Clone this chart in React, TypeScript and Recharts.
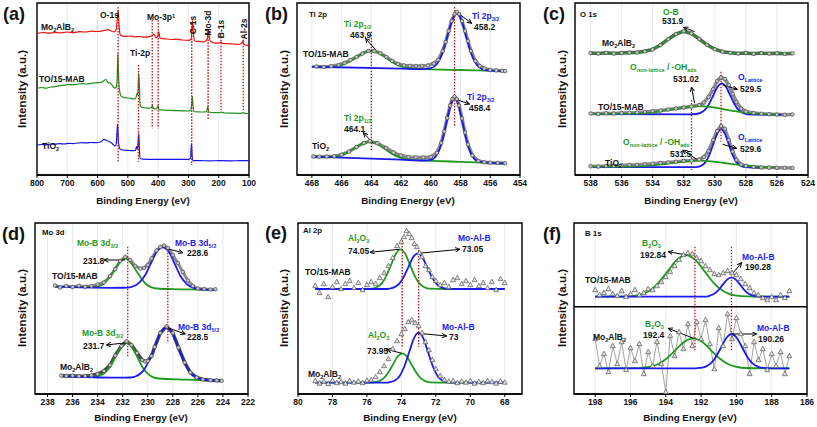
import React from 'react';
import {
  ComposedChart,
  Line,
  XAxis,
  YAxis,
  CartesianGrid,
  ReferenceLine,
  ReferenceArea,
} from 'recharts';

type Pt = [number, number];

// ---- (a) survey ----
const surveyMo: Pt[] = [
  [800, 141.7], [780, 142.5], [760, 141.8], [740, 142.6], [720, 142.2], [700, 143], [680, 142.4], [660, 143.4],
  [640, 143], [620, 143.8], [600, 143.5], [580, 144.4], [565, 145.3], [555, 144], [545, 143.2], [538, 146],
  [535, 156], [532, 165], [529, 150], [526, 141], [520, 139.2], [505, 138.6], [490, 138.9], [475, 138.2],
  [460, 138.5], [445, 137.8], [430, 138.3], [420, 139.5], [414, 141], [408, 137.5], [402, 138], [398, 143.5],
  [394, 137], [385, 136.3], [370, 136], [355, 135.5], [340, 135.8], [320, 135], [300, 134.7], [292, 135.5],
  [288, 146], [286, 154.5], [283, 140], [280, 134], [265, 133.6], [250, 133.2], [242, 134], [238, 136],
  [235, 143], [233.5, 145.5], [231, 138], [227, 133.5], [215, 132.2], [200, 131.8], [192, 133], [188, 131.5],
  [170, 131.4], [150, 131], [135, 130.7], [124, 132], [120, 134], [116, 130.5], [108, 129.8], [100, 129.2],
];
const surveyMab: Pt[] = [
  [800, 86.7], [785, 87.5], [770, 86.9], [755, 88], [740, 88.4], [725, 89.3], [710, 89.8], [695, 90.5],
  [680, 90.2], [665, 91], [650, 91.3], [635, 91], [620, 91.8], [605, 92.2], [590, 92.5], [578, 94.5],
  [572, 95.5], [566, 92.5], [558, 91.8], [550, 89], [544, 87], [538, 88], [535, 100], [533, 121.7],
  [531, 100], [528, 86], [524, 80], [520, 78.5], [510, 77.3], [500, 77], [490, 76.6], [480, 76],
  [474, 76.5], [470, 81.5], [468, 80], [466, 86], [464, 101.7], [462, 90], [460, 72], [458, 68.5],
  [450, 67.5], [440, 67], [430, 66.8], [422, 67.5], [419, 69.5], [415, 66.5], [405, 66], [401, 69.2],
  [397, 65.4], [380, 65], [360, 64.6], [340, 64.4], [320, 64.2], [300, 64], [292, 64.5], [289, 72],
  [287, 78.3], [285, 70], [282, 63.4], [270, 63.2], [250, 63], [240, 63.4], [236, 69], [233, 63],
  [225, 62.5], [200, 62.3], [192, 62.8], [180, 62], [150, 61.8], [130, 61.6], [120, 62.2], [110, 61.5], [100, 61.3],
];
const surveyTi: Pt[] = [
  [800, 30], [785, 30.5], [770, 30.2], [755, 31], [740, 30.8], [725, 31.3], [710, 31], [695, 31.6],
  [680, 31.4], [665, 32], [650, 32.3], [635, 32.1], [620, 32.5], [605, 32.4], [590, 33], [578, 35.7],
  [570, 34.5], [560, 33.3], [550, 31], [543, 29], [539, 30], [536, 42], [534, 51], [532, 38],
  [529, 28.3], [524, 25.5], [515, 25], [500, 24.6], [485, 24.3], [475, 24.5], [471, 28.3], [468, 26],
  [466, 33], [464, 41.7], [462, 26], [459, 16.5], [450, 15.8], [420, 15.7], [380, 15.6], [340, 15.7],
  [300, 15.6], [293, 17], [290, 31.7], [288, 20], [285, 14.3], [260, 14.3], [230, 14.2], [200, 14.3],
  [160, 14.2], [130, 14.3], [100, 14.3],
];
const surveyTicks = [800, 700, 600, 500, 400, 300, 200, 100];

// ---- (b) Ti 2p ----
const tiMabRaw: Pt[] = [
  [467.7, 108.5], [467.2, 108.1], [466.7, 108.8], [466.2, 110], [465.8, 112], [465.4, 115], [465, 118],
  [464.6, 121.5], [464.2, 124], [463.8, 124], [463.4, 121.8], [463, 118], [462.6, 114], [462.2, 111],
  [461.8, 109.6], [461.4, 109.2], [461, 109], [460.6, 109.1], [460.2, 109.5], [459.8, 111.5], [459.5, 115],
  [459.2, 124], [459, 133], [458.8, 144], [458.6, 154], [458.4, 161], [458.25, 163], [458.1, 161],
  [457.9, 154], [457.7, 144], [457.5, 134], [457.3, 124], [457, 114], [456.7, 109], [456.4, 106.5],
  [456, 105], [455.6, 104.6], [455.2, 104.2], [455, 104],
];
const tiMabP12: Pt[] = [
  [468, 108.3], [467, 108.1], [466.5, 108.6], [466, 109.9], [465.5, 113], [465, 117.8], [464.5, 122.4],
  [464, 124.3], [463.5, 122.1], [463, 117.1], [462.5, 112.1], [462, 108.6], [461.5, 106.9], [461, 106.2],
  [460, 105.7], [458, 105], [456, 104.3], [455, 104],
];
const tiMabP32: Pt[] = [
  [468, 108.3], [462, 106.3], [460.5, 105.8], [460, 106.8], [459.5, 112.9], [459.2, 122.9], [459, 132.5],
  [458.8, 143.2], [458.6, 153.3], [458.4, 160], [458.25, 161.7], [458.1, 159.9], [457.9, 153.1],
  [457.7, 142.8], [457.5, 132], [457.3, 122.3], [457, 112.1], [456.5, 105.6], [456, 104.3], [455, 104],
];
const tiTioRaw: Pt[] = [
  [467.9, 18.5], [467.5, 18.3], [467, 18.5], [466.5, 18.8], [466, 20.3], [465.5, 23.5], [465, 28],
  [464.5, 32], [464.1, 33.8], [463.6, 31.8], [463, 27], [462.5, 22.5], [462, 19.5], [461.5, 18],
  [461, 17.6], [460.5, 17.5], [460, 18], [459.6, 22], [459.3, 32], [459.1, 43.5], [458.9, 57],
  [458.7, 69.5], [458.55, 76], [458.4, 78.3], [458.25, 76], [458.1, 69.5], [457.9, 56.5], [457.7, 42.5],
  [457.5, 30.5], [457.2, 19.5], [456.8, 14], [456.4, 12.8], [456, 12.3], [455.5, 12], [455, 11.7],
];
const tiTioP12: Pt[] = [
  [468, 18.3], [467, 18], [466.6, 18.3], [466.1, 19.7], [465.6, 22.6], [465.1, 27.2], [464.6, 31.6],
  [464.1, 33.4], [463.6, 31.1], [463.1, 26.2], [462.6, 21.1], [462.1, 17.7], [461.6, 15.8], [461, 14.8],
  [460, 14.2], [458, 13.2], [456, 12.2], [455, 11.7],
];
const tiTioP32: Pt[] = [
  [468, 18.3], [462, 15.3], [460.5, 14.5], [460, 15.1], [459.6, 19.9], [459.3, 30.4], [459.1, 42],
  [458.9, 55.5], [458.7, 68.2], [458.55, 74.5], [458.4, 76.7], [458.25, 74.4], [458.1, 67.9], [457.9, 55],
  [457.7, 41.3], [457.5, 29.5], [457.2, 18.8], [456.8, 13.6], [456, 12.2], [455, 11.7],
];
const tiTicks = [468, 466, 464, 462, 460, 458, 456, 454];

// ---- (c) O 1s ----
const oMoRaw: Pt[] = [
  [538, 122], [537.5, 121.5], [537, 122.3], [536.5, 121.4], [536, 122], [535.5, 122.4], [535, 122.5],
  [534.5, 123.7], [534, 125.6], [533.5, 130], [533, 135.8], [532.5, 141], [532, 143.8], [531.5, 141.5],
  [531, 136], [530.5, 130.2], [530, 125.8], [529.5, 123.3], [529, 122.2], [528.5, 121.5], [528, 122],
  [527.5, 121.3], [527, 121.9], [526.5, 121.4], [526, 121.8], [525.5, 121.2], [525, 121.6],
];
const oMoOB: Pt[] = [
  [538, 121.7], [536, 121.7], [535.3, 121.9], [534.75, 122.6], [534.2, 124.6], [533.65, 128.7], [533.1, 134.8],
  [532.55, 140.8], [532, 143.3], [531.45, 140.8], [530.9, 134.8], [530.35, 128.7], [529.8, 124.6],
  [529.25, 122.6], [528.7, 121.9], [527, 121.7], [525, 121.6],
];
const oMabRaw: Pt[] = [
  [538, 61.5], [537.5, 61.2], [537, 61.8], [536.5, 61.5], [536, 62], [535.5, 62.3], [535, 62.5], [534.5, 63],
  [534, 63.8], [533.5, 64.5], [533, 65.5], [532.5, 66.5], [532, 67.5], [531.5, 68.5], [531, 70], [530.7, 72.5],
  [530.4, 78], [530.1, 86], [529.85, 94], [529.6, 97.5], [529.35, 96], [529.1, 90], [528.85, 81], [528.6, 73],
  [528.3, 66.5], [528, 63.5], [527.5, 62], [527, 61.2], [526.5, 60.8], [526, 60.5], [525.5, 60.3], [525, 60.5],
];
const oMabOH: Pt[] = [
  [537.8, 61.1], [536, 61.4], [535, 61.6], [534.2, 62.2], [533.4, 63.9], [532.6, 65.9], [531.8, 68], [531, 68.9],
  [530.2, 67.9], [529.4, 65.7], [528.6, 63.6], [527.8, 61.9], [527, 61.2], [526, 60.6],
];
const oMabLat: Pt[] = [
  [537.7, 61], [531.5, 60.7], [531.2, 61], [530.93, 62.1], [530.65, 64.9], [530.38, 70.7], [530.1, 79.5],
  [529.83, 88.1], [529.55, 91.7], [529.27, 88], [529, 79.4], [528.72, 70.5], [528.45, 64.6], [528.17, 61.8],
  [527.9, 60.7], [525.7, 60.3],
];
const oTioRaw: Pt[] = [
  [538, 8.8], [537.5, 8.5], [537, 9], [536.5, 9.2], [536, 9.6], [535.5, 10], [535, 10.3], [534.5, 10.8],
  [534, 11.3], [533.5, 12], [533, 12.6], [532.5, 13.3], [532, 14], [531.5, 14.5], [531, 15.5], [530.7, 18],
  [530.4, 24], [530.1, 35], [529.85, 44], [529.6, 49], [529.35, 46], [529.1, 35], [528.85, 23.5], [528.6, 15],
  [528.3, 10.5], [528, 9], [527.5, 8], [527, 7.6], [526.5, 7.4], [526, 7.2], [525.5, 7.2], [525, 7],
];
const oTioOH: Pt[] = [
  [538, 8.4], [536, 8.4], [535, 8.6], [534.2, 9.3], [533.4, 10.7], [532.6, 12.4], [531.8, 13.7], [531, 14.3],
  [530.2, 13.6], [529.4, 12], [528.6, 10.4], [527.8, 9], [527, 8.2], [526, 7.6],
];
const oTioLat: Pt[] = [
  [537.8, 8], [531.3, 7.8], [531.1, 8.1], [530.85, 9.5], [530.6, 12.9], [530.35, 20.1], [530.1, 30.8],
  [529.85, 41.2], [529.6, 45.7], [529.35, 41.1], [529.1, 30.7], [528.85, 19.9], [528.6, 12.6], [528.35, 9.2],
  [528.1, 7.8], [527, 7.4],
];
const oTicks = [538, 536, 534, 532, 530, 528, 526, 524];

// ---- (d) Mo 3d ----
const moMabRaw: Pt[] = [
  [237.4, 108.5], [237, 106.5], [236.5, 108], [236, 107], [235.5, 108.3], [235, 107.2], [234.5, 108],
  [234, 109.5], [233.5, 111.5], [233, 118], [232.6, 125], [232.2, 133], [231.8, 137], [231.4, 134],
  [231, 128], [230.6, 125.5], [230.3, 126], [230, 129], [229.7, 135.5], [229.3, 143.5], [229, 147],
  [228.7, 148.5], [228.4, 146], [228, 139], [227.6, 131], [227.2, 122], [226.8, 113.5], [226.4, 108],
  [226, 105.5], [225.5, 105], [225, 104.5], [224.6, 104.8],
];
const moMab32: Pt[] = [
  [237.4, 107.3], [234.8, 106.8], [234.35, 106.9], [233.9, 107.8], [233.5, 110.4], [233.1, 116], [232.65, 124.2],
  [232.2, 132.3], [231.8, 135.7], [231.4, 132.1], [230.95, 123.8], [230.5, 115.3], [230.1, 109.5],
  [229.7, 106.7], [229.25, 105.5], [228, 104.9], [226, 104.4], [224.6, 104],
];
const moMab52: Pt[] = [
  [237.4, 107.3], [233, 106.2], [231.65, 106.3], [231.2, 107.5], [230.7, 111.2], [230.2, 119], [229.75, 130.6],
  [229.3, 141.9], [228.8, 146.7], [228.3, 141.7], [227.85, 130.2], [227.4, 118.3], [226.9, 110.2],
  [226.4, 106.3], [225.95, 104.9], [224.6, 104],
];
const moMoRaw: Pt[] = [
  [236.9, 18.5], [236.5, 18], [236, 18.3], [235.5, 17.8], [235, 18], [234.5, 18.5], [234, 20], [233.5, 23],
  [233, 29], [232.6, 38.5], [232.1, 48], [231.7, 52.5], [231.3, 49], [230.85, 41], [230.45, 34], [230.2, 32.5],
  [230, 33], [229.7, 38], [229.45, 47], [229, 61], [228.5, 67.5], [228, 61], [227.55, 46.5], [227.05, 31.5],
  [226.6, 21.5], [226.1, 16.5], [225.6, 14.5], [225, 13.8], [224.5, 13.5], [224.1, 13.3],
];
const moMo32: Pt[] = [
  [236.9, 18], [234.7, 17.3], [234.25, 17.4], [233.8, 18.5], [233.4, 21.5], [232.95, 28.2], [232.55, 38],
  [232.1, 47.6], [231.7, 51.7], [231.3, 47.4], [230.85, 37.4], [230.45, 27.2], [230, 20.3], [229.6, 16.9],
  [229.15, 15.5], [227, 14.4], [224.1, 13.3],
];
const moMo52: Pt[] = [
  [236.9, 18], [232.5, 16.3], [231.35, 16.5], [230.9, 18], [230.4, 22.6], [229.95, 32.2], [229.45, 46.6],
  [229, 60.8], [228.5, 66.7], [228, 60.4], [227.55, 45.9], [227.05, 31.2], [226.6, 21.2], [226.1, 16.3],
  [225.65, 14.5], [224.1, 13.3],
];
const moTicks = [238, 236, 234, 232, 230, 228, 226, 224, 222];

// ---- (e) Al 2p ----
const alMabRaw: Pt[] = [
  [79, 108], [78.75, 101], [78.5, 110], [78.25, 97], [78, 107], [77.75, 112], [77.5, 105], [77.25, 110],
  [77, 113], [76.75, 106], [76.5, 111], [76.25, 104], [76, 109], [75.75, 112], [75.5, 110], [75.25, 116],
  [75, 121], [74.75, 128], [74.5, 136], [74.25, 148], [74, 152], [73.85, 157], [73.7, 163], [73.55, 160],
  [73.4, 156], [73.25, 150], [73.1, 147], [72.95, 141], [72.8, 137], [72.6, 128], [72.4, 124], [72.2, 117],
  [72, 113], [71.75, 109], [71.5, 111], [71.25, 107], [71, 114], [70.75, 116], [70.5, 110], [70.25, 113],
  [70, 109], [69.75, 114], [69.5, 108], [69.25, 111], [69, 106], [68.75, 112], [68.5, 104], [68.25, 115], [68, 111],
];
const alMabOx: Pt[] = [
  [79, 105], [76, 105], [75.7, 105.4], [75.43, 106.7], [75.15, 110.4], [74.88, 117.9], [74.6, 129.1],
  [74.33, 140], [74.05, 144.7], [73.77, 140], [73.5, 129.1], [73.22, 117.9], [72.95, 110.4], [72.67, 106.7],
  [72.4, 105.4], [71.5, 105], [68, 105],
];
const alMabMab: Pt[] = [
  [79, 105], [74.8, 105], [74.7, 105.4], [74.43, 106.6], [74.15, 109.8], [73.88, 116.6], [73.6, 126.7],
  [73.33, 136.5], [73.05, 140.7], [72.77, 136.5], [72.5, 126.7], [72.22, 116.6], [71.95, 109.8], [71.67, 106.6],
  [71.4, 105.4], [71, 105], [68, 105],
];
const alMoRaw: Pt[] = [
  [79, 13], [78.75, 10.5], [78.5, 12.5], [78.25, 10], [78, 13.5], [77.75, 11], [77.5, 12], [77.25, 10.5],
  [77, 13], [76.75, 11.5], [76.5, 12.5], [76.25, 11], [76, 13.5], [75.75, 14], [75.5, 17], [75.25, 22],
  [75, 28], [74.75, 35], [74.5, 45], [74.25, 53], [74, 60], [73.8, 65], [73.6, 72], [73.4, 74], [73.2, 71],
  [73, 68], [72.8, 61], [72.6, 52], [72.4, 44], [72.2, 34], [72, 25], [71.75, 18], [71.5, 14], [71.25, 12.5],
  [71, 13], [70.75, 11], [70.5, 12.5], [70.25, 11.5], [70, 13], [69.75, 10.5], [69.5, 12], [69.25, 11],
  [69, 13], [68.75, 12], [68.5, 10.5], [68.25, 12.5], [68, 11.5],
];
const alMoOx: Pt[] = [
  [79, 11.3], [75.9, 11.3], [75.6, 11.6], [75.33, 12.6], [75.05, 15.3], [74.78, 20.9], [74.5, 29.1],
  [74.23, 37.2], [73.95, 40.7], [73.67, 37.2], [73.4, 29.1], [73.12, 20.9], [72.85, 15.3], [72.57, 12.6],
  [72.3, 11.6], [71.5, 11.3], [68, 11.3],
];
const alMoMab: Pt[] = [
  [79, 11.3], [74.9, 11.3], [74.65, 11.9], [74.38, 13.5], [74.1, 18.1], [73.83, 27.5], [73.55, 41.7],
  [73.28, 55.4], [73, 61.3], [72.72, 55.4], [72.45, 41.7], [72.17, 27.5], [71.9, 18.1], [71.62, 13.5],
  [71.35, 11.9], [71, 11.3], [68, 11.3],
];
const alTicks = [80, 78, 76, 74, 72, 70, 68];

// ---- (f) B 1s ----
const bMabRaw: Pt[] = [
  [198, 104], [197.75, 99], [197.5, 101], [197.25, 105], [197, 100], [196.75, 98], [196.5, 103], [196.25, 97],
  [196, 100], [195.75, 104], [195.5, 99], [195.25, 101], [195, 105], [194.75, 104], [194.5, 108], [194.25, 112],
  [194, 117], [193.75, 122], [193.5, 128], [193.25, 134], [193, 139], [192.75, 141], [192.5, 140], [192.25, 136],
  [192, 133], [191.75, 128], [191.5, 124], [191.25, 120], [191, 119], [190.75, 121], [190.5, 123], [190.25, 121],
  [190, 119], [189.75, 115], [189.5, 110], [189.25, 106], [189, 101], [188.75, 99], [188.5, 96], [188.25, 94],
  [188, 97], [187.75, 94], [187.5, 99], [187.25, 96], [187, 103],
];
const bMabOx: Pt[] = [
  [198, 97.3], [196.5, 97.4], [196, 97.8], [195.5, 99.1], [194.95, 102.9], [194.43, 110.9], [193.9, 122.6],
  [193.38, 134.1], [192.85, 139], [192.33, 134.1], [191.8, 122.6], [191.28, 110.9], [190.75, 102.9],
  [190.23, 99.1], [189.7, 97.8], [189, 97.4], [187, 97.3],
];
const bMabMab: Pt[] = [
  [198, 97.3], [191.8, 97.3], [191.53, 98.2], [191.28, 99.9], [191.03, 103.6], [190.78, 109.1], [190.53, 114.4],
  [190.28, 116.7], [190.03, 114.4], [189.78, 109.1], [189.53, 103.6], [189.28, 99.9], [189.03, 98.2],
  [188.7, 97.4], [187, 97.3],
];
const bMoRaw: Pt[] = [
  [198, 55], [197.75, 28], [197.5, 40], [197.25, 22], [197, 48], [196.75, 30], [196.5, 52], [196.25, 24],
  [196, 46], [195.75, 33], [195.5, 50], [195.25, 20], [195, 42], [194.75, 28], [194.5, 52], [194.25, 30],
  [194, 2], [193.75, 58], [193.5, 38], [193.25, 62], [193, 45], [192.75, 70], [192.5, 48], [192.25, 72],
  [192, 55], [191.75, 74], [191.5, 50], [191.25, 25], [191, 66], [190.75, 48], [190.5, 80], [190.25, 55],
  [190, 76], [189.75, 60], [189.5, 48], [189.25, 20], [189, 52], [188.75, 34], [188.5, 45], [188.25, 24],
  [188, 40], [187.75, 28], [187.5, 42], [187.25, 20], [187, 38],
];
const bMoOx: Pt[] = [
  [198, 25.7], [195.5, 25.8], [195.45, 26], [194.95, 27], [194.45, 29.8], [193.95, 35.5], [193.45, 43.9],
  [192.95, 52.2], [192.45, 55.7], [191.95, 52.2], [191.45, 43.9], [190.95, 35.5], [190.45, 29.8],
  [189.95, 27], [189.45, 26], [188.5, 25.7], [187, 25.7],
];
const bMoMab: Pt[] = [
  [198, 25.7], [192.3, 25.7], [192.07, 26.1], [191.77, 27.2], [191.47, 30.3], [191.17, 36.8], [190.87, 46.5],
  [190.57, 56], [190.27, 60], [189.97, 56], [189.67, 46.5], [189.37, 36.8], [189.07, 30.3], [188.77, 27.2],
  [188.47, 26.1], [188, 25.7], [187, 25.7],
];
const bTicks = [198, 196, 194, 192, 190, 188, 186];

const FONT = '"Liberation Sans", Arial, Helvetica, sans-serif';
const GREEN = '#1f9a1f';
const BLUE = '#1a1aee';
const RED = '#c01818';

const toRows = (pts: Pt[]) => pts.map(([x, y]) => ({ x, y }));

const circleDot = (p: any) => (
  <circle key={`c${p.index}`} cx={p.cx} cy={p.cy} r={1.8} fill="#c4c4c4" stroke="#4a4a4a" strokeWidth={0.7} />
);
const triDot = (p: any) => (
  <path
    key={`t${p.index}`}
    d={`M${p.cx},${p.cy - 2.8}L${p.cx + 2.5},${p.cy + 1.7}L${p.cx - 2.5},${p.cy + 1.7}Z`}
    fill="#e2e2e2"
    stroke="#555"
    strokeWidth={0.7}
  />
);

interface Series {
  pts: Pt[];
  color: string;
  width?: number;
  raw?: 'circle' | 'tri' | 'plain';
}
interface RefSeg {
  x: number;
  y1: number;
  y2: number;
}
interface PanelProps {
  left: number;
  top: number;
  width: number;
  height: number;
  domain: [number, number];
  ticks: number[];
  series: Series[];
  refs?: RefSeg[];
  arrows?: [Pt, Pt][];
  divider?: number;
}

const AXIS_H = 24;
const SIDE = 14;

const Panel: React.FC<PanelProps> = ({ left, top, width, height, domain, ticks, series, refs = [], arrows = [], divider }) => (
  <div style={{ position: 'absolute', left: left - SIDE, top: top - 2 }}>
    <ComposedChart
      width={width + SIDE * 2}
      height={height + 2 + AXIS_H}
      margin={{ top: 2, right: SIDE, left: SIDE, bottom: 0 }}
    >
      <CartesianGrid horizontal={false} stroke="#dfe4ec" strokeWidth={0.8} />
      <XAxis
        type="number"
        dataKey="x"
        domain={domain}
        reversed
        allowDataOverflow
        ticks={ticks}
        interval={0}
        height={AXIS_H}
        tickSize={3}
        tickMargin={2}
        axisLine={{ stroke: '#000', strokeWidth: 1.4 }}
        tickLine={{ stroke: '#000' }}
        tick={{ fontSize: 8.5, fontWeight: 700, fill: '#111' }}
      />
      <YAxis type="number" dataKey="y" hide domain={[0, height]} allowDataOverflow />
      <ReferenceArea
        x1={domain[0]}
        x2={domain[1]}
        y1={0}
        y2={height}
        fill="none"
        fillOpacity={0}
        stroke="#000"
        strokeWidth={1.4}
        ifOverflow="visible"
      />
      {divider !== undefined && <ReferenceLine y={divider} stroke="#000" strokeWidth={1.4} />}
      {series.map((s, i) => (
        <Line
          key={i}
          data={toRows(s.pts)}
          dataKey="y"
          type={s.raw ? 'linear' : 'monotone'}
          stroke={s.width === 0 ? 'none' : s.color}
          strokeWidth={s.width ?? 1.8}
          dot={s.raw === 'circle' ? circleDot : s.raw === 'tri' ? triDot : false}
          activeDot={false}
          isAnimationActive={false}
        />
      ))}
      {refs.map((r, i) => (
        <ReferenceLine
          key={`r${i}`}
          segment={[{ x: r.x, y: r.y1 }, { x: r.x, y: r.y2 }]}
          stroke={RED}
          strokeWidth={1.3}
          strokeDasharray="1.6 1.4"
          ifOverflow="visible"
        />
      ))}
      {arrows.map((a, i) => (
        <ReferenceLine
          key={`a${i}`}
          segment={[{ x: a[0][0], y: a[0][1] }, { x: a[1][0], y: a[1][1] }]}
          ifOverflow="visible"
          shape={(p: any) => (
            <line x1={p.x1} y1={p.y1} x2={p.x2} y2={p.y2} stroke="#000" strokeWidth={1} markerEnd="url(#arrowHead)" />
          )}
        />
      ))}
    </ComposedChart>
  </div>
);

const Sub: React.FC<{ children: React.ReactNode }> = ({ children }) => (
  <span style={{ fontSize: '0.65em', position: 'relative', top: '0.35em' }}>{children}</span>
);
const Sup: React.FC<{ children: React.ReactNode }> = ({ children }) => (
  <span style={{ fontSize: '0.65em', position: 'relative', top: '-0.45em' }}>{children}</span>
);

const T: React.FC<{ x: number; y: number; c?: string; s?: number; children: React.ReactNode }> = ({
  x,
  y,
  c = '#111',
  s = 8.5,
  children,
}) => (
  <div
    style={{
      position: 'absolute',
      left: x,
      top: y,
      transform: 'translateY(-50%)',
      color: c,
      fontSize: s,
      fontWeight: 700,
      lineHeight: 1,
      whiteSpace: 'nowrap',
    }}
  >
    {children}
  </div>
);

const R: React.FC<{ x: number; y: number; s?: number; children: React.ReactNode }> = ({ x, y, s = 8.5, children }) => (
  <div
    style={{
      position: 'absolute',
      left: x,
      top: y,
      transform: 'translate(-50%,-50%) rotate(-90deg)',
      fontSize: s,
      fontWeight: 700,
      lineHeight: 1,
      whiteSpace: 'nowrap',
      color: '#111',
    }}
  >
    {children}
  </div>
);

const XTitle: React.FC<{ cx: number; y: number }> = ({ cx, y }) => (
  <div
    style={{
      position: 'absolute',
      left: cx,
      top: y,
      transform: 'translate(-50%,-50%)',
      fontSize: 9.8,
      fontWeight: 700,
      whiteSpace: 'nowrap',
      lineHeight: 1,
    }}
  >
    Binding Energy (eV)
  </div>
);
const YTitle: React.FC<{ x: number; cy: number }> = ({ x, cy }) => <R x={x} y={cy} s={11.5}>Intensity (a.u.)</R>;
const Letter: React.FC<{ x: number; y: number; t: string }> = ({ x, y, t }) => (
  <T x={x} y={y} s={18}>
    {t}
  </T>
);

export default function App() {
  return (
    <div
      style={{
        position: 'absolute',
        left: 0,
        top: 0,
        width: 817,
        height: 427,
        background: '#fff',
        overflow: 'hidden',
        fontFamily: FONT,
        color: '#111',
      }}
    >
      <svg width={0} height={0} style={{ position: 'absolute' }}>
        <defs>
          <marker id="arrowHead" viewBox="0 0 8 8" refX={7.5} refY={4} markerWidth={5} markerHeight={5} orient="auto" markerUnits="userSpaceOnUse">
            <path d="M0,0.5 L7.5,4 L0,7.5" fill="none" stroke="#000" strokeWidth={1.5} />
          </marker>
        </defs>
      </svg>

      {/* (a) survey */}
      <Panel
        left={37}
        top={3}
        width={212}
        height={172}
        domain={[100, 800]}
        ticks={surveyTicks}
        series={[
          { pts: surveyMo, color: '#f01414', width: 1.2 },
          { pts: surveyMab, color: '#1f8f1f', width: 1.2 },
          { pts: surveyTi, color: '#1414e6', width: 1.2 },
        ]}
        refs={[
          { x: 532, y1: 168, y2: 13 },
          { x: 465, y1: 110, y2: 13 },
          { x: 419.6, y1: 155, y2: 46.7 },
          { x: 399.8, y1: 155, y2: 46.7 },
          { x: 289, y1: 151.7, y2: 10 },
          { x: 235, y1: 141.7, y2: 55 },
          { x: 192.5, y1: 138.3, y2: 65 },
          { x: 119, y1: 138.3, y2: 65 },
        ]}
      />
      <Letter x={3} y={14} t="(a)" />
      <T x={100} y={15}>O-1s</T>
      <T x={147} y={17}>
        Mo-3p<Sup>1</Sup>
      </T>
      <T x={130} y={53}>Ti-2p</T>
      <R x={193} y={25}>C-1s</R>
      <R x={208} y={23}>Mo-3d</R>
      <R x={221} y={29}>B-1s</R>
      <R x={244} y={29}>Al-2s</R>
      <T x={41} y={27}>
        Mo<Sub>2</Sub>AlB<Sub>2</Sub>
      </T>
      <T x={39} y={79}>TO/15-MAB</T>
      <T x={42} y={146}>
        TiO<Sub>2</Sub>
      </T>
      <YTitle x={23} cy={89} />
      <XTitle cx={143} y={201} />

      {/* (b) Ti 2p */}
      <Panel
        left={297}
        top={3}
        width={223}
        height={172}
        domain={[454, 469]}
        ticks={tiTicks}
        series={[
          { pts: tiMabRaw, color: '#8c8c8c', width: 3.5, raw: 'circle' },
          { pts: tiTioRaw, color: '#8c8c8c', width: 3.5, raw: 'circle' },
          { pts: tiMabP12, color: GREEN },
          { pts: tiTioP12, color: GREEN },
          { pts: tiMabP32, color: BLUE },
          { pts: tiTioP32, color: BLUE },
        ]}
        refs={[
          { x: 464, y1: 143.3, y2: 23.3 },
          { x: 458.4, y1: 168, y2: 48 },
        ]}
        arrows={[
          [[463.7, 125], [464.4, 136.7]],
          [[458.0, 160], [457.25, 151.7]],
          [[463.87, 31.7], [464.54, 42.3]],
          [[458.3, 75.7], [457.4, 71]],
        ]}
      />
      <Letter x={265} y={14} t="(b)" />
      <T x={309} y={15} s={7.8}>Ti 2p</T>
      <T x={344} y={24} c={GREEN}>
        Ti 2p<Sub>1/2</Sub>
      </T>
      <T x={350} y={35}>463.9</T>
      <T x={303} y={54}>TO/15-MAB</T>
      <T x={472} y={16} c={BLUE}>
        Ti 2p<Sub>3/2</Sub>
      </T>
      <T x={474} y={27}>458.2</T>
      <T x={344} y={118} c={GREEN}>
        Ti 2p<Sub>1/2</Sub>
      </T>
      <T x={344} y={129}>464.1</T>
      <T x={312} y={146}>
        TiO<Sub>2</Sub>
      </T>
      <T x={467} y={97} c={BLUE}>
        Ti 2p<Sub>3/2</Sub>
      </T>
      <T x={469} y={108}>458.4</T>
      <YTitle x={285} cy={89} />
      <XTitle cx={408} y={201} />

      {/* (c) O 1s */}
      <Panel
        left={575}
        top={3}
        width={233}
        height={172}
        domain={[524, 539]}
        ticks={oTicks}
        series={[
          { pts: oMoRaw, color: '#5a5a5a', width: 3.5, raw: 'circle' },
          { pts: oMabRaw, color: '#8c8c8c', width: 3.5, raw: 'circle' },
          { pts: oTioRaw, color: '#8c8c8c', width: 3.5, raw: 'circle' },
          { pts: oMoOB, color: GREEN },
          { pts: oMabLat, color: BLUE },
          { pts: oTioLat, color: BLUE },
          { pts: oMabOH, color: GREEN },
          { pts: oTioOH, color: GREEN },
        ]}
        refs={[
          { x: 531.5, y1: 75, y2: 5 },
          { x: 529.6, y1: 103.3, y2: 33.3 },
        ]}
        arrows={[
          [[531.3, 143.3], [532.0, 147.7]],
          [[531.3, 71.7], [531.5, 88]],
          [[529.5, 90], [528.55, 85.7]],
          [[531.16, 15.7], [532.07, 25]],
          [[529.5, 30.7], [528.6, 26.7]],
        ]}
      />
      <Letter x={543} y={14} t="(c)" />
      <T x={580} y={15} s={7.8}>O 1s</T>
      <T x={663} y={12} c={GREEN}>O-B</T>
      <T x={662} y={21}>531.9</T>
      <T x={602} y={43}>
        Mo<Sub>2</Sub>AlB<Sub>2</Sub>
      </T>
      <T x={630} y={67} c={GREEN}>
        O<Sub>non-lattice</Sub> / -OH<Sub>ads</Sub>
      </T>
      <T x={673} y={79}>531.02</T>
      <T x={738} y={77} c={BLUE}>
        O<Sub>Lattice</Sub>
      </T>
      <T x={740} y={89}>529.5</T>
      <T x={598} y={107}>TO/15-MAB</T>
      <T x={623} y={142} c={GREEN}>
        O<Sub>non-lattice</Sub> / -OH<Sub>ads</Sub>
      </T>
      <T x={670} y={154}>531.5</T>
      <T x={738} y={137} c={BLUE}>
        O<Sub>Lattice</Sub>
      </T>
      <T x={740} y={149}>529.6</T>
      <T x={605} y={163}>
        TiO<Sub>2</Sub>
      </T>
      <YTitle x={563} cy={89} />
      <XTitle cx={691} y={201} />

      {/* (d) Mo 3d */}
      <Panel
        left={35}
        top={223}
        width={213}
        height={171}
        domain={[222, 239]}
        ticks={moTicks}
        series={[
          { pts: moMabRaw, color: '#8c8c8c', width: 3, raw: 'circle' },
          { pts: moMoRaw, color: '#4a4a4a', width: 3.5, raw: 'circle' },
          { pts: moMab32, color: GREEN },
          { pts: moMo32, color: GREEN },
          { pts: moMab52, color: BLUE },
          { pts: moMo52, color: BLUE },
        ]}
        refs={[
          { x: 231.6, y1: 147.3, y2: 37.3 },
          { x: 228.4, y1: 147.3, y2: 50.7 },
        ]}
        arrows={[
          [[231.8, 134], [233.5, 134]],
          [[228.6, 145.7], [227.2, 141.3]],
          [[231.7, 51.3], [233.3, 49]],
          [[228.5, 66.7], [227.0, 60]],
        ]}
      />
      <Letter x={2} y={234} t="(d)" />
      <T x={42} y={233} s={7.8}>Mo 3d</T>
      <T x={77} y={243} c={GREEN}>
        Mo-B 3d<Sub>3/2</Sub>
      </T>
      <T x={83} y={261}>231.8</T>
      <T x={175} y={243} c={BLUE}>
        Mo-B 3d<Sub>5/2</Sub>
      </T>
      <T x={187} y={253}>228.6</T>
      <T x={52} y={276}>TO/15-MAB</T>
      <T x={82} y={333} c={GREEN}>
        Mo-B 3d<Sub>3/2</Sub>
      </T>
      <T x={83} y={346}>231.7</T>
      <T x={178} y={327} c={BLUE}>
        Mo-B 3d<Sub>5/2</Sub>
      </T>
      <T x={187} y={337}>228.5</T>
      <T x={60} y={367}>
        Mo<Sub>2</Sub>AlB<Sub>2</Sub>
      </T>
      <YTitle x={23} cy={308} />
      <XTitle cx={141} y={418} />

      {/* (e) Al 2p */}
      <Panel
        left={298}
        top={223}
        width={224}
        height={171}
        domain={[67, 80]}
        ticks={alTicks}
        series={[
          { pts: alMabRaw, color: '#9a9a9a', width: 0, raw: 'tri' },
          { pts: alMoRaw, color: '#9a9a9a', width: 0, raw: 'tri' },
          { pts: alMabOx, color: GREEN },
          { pts: alMoOx, color: GREEN },
          { pts: alMabMab, color: BLUE },
          { pts: alMoMab, color: BLUE },
        ]}
        refs={[
          { x: 73.95, y1: 154, y2: 45.7 },
          { x: 73.0, y1: 144, y2: 47 },
        ]}
        arrows={[
          [[74.12, 144.7], [75.82, 141.7]],
          [[73.02, 140.7], [70.6, 144.7]],
          [[73.02, 60.7], [71.37, 58]],
          [[73.98, 40.7], [74.85, 44.7]],
        ]}
      />
      <Letter x={265} y={233} t="(e)" />
      <T x={303} y={231} s={7.8}>Al 2p</T>
      <T x={348} y={238} c={GREEN}>
        Al<Sub>2</Sub>O<Sub>3</Sub>
      </T>
      <T x={348} y={251}>74.05</T>
      <T x={458} y={238} c={BLUE}>Mo-Al-B</T>
      <T x={462} y={249}>73.05</T>
      <T x={305} y={272}>TO/15-MAB</T>
      <T x={442} y={327} c={BLUE}>Mo-Al-B</T>
      <T x={449} y={337}>73</T>
      <T x={368} y={335} c={GREEN}>
        Al<Sub>2</Sub>O<Sub>3</Sub>
      </T>
      <T x={367} y={351}>73.95</T>
      <T x={308} y={374}>
        Mo<Sub>2</Sub>AlB<Sub>2</Sub>
      </T>
      <YTitle x={285} cy={308} />
      <XTitle cx={410} y={418} />

      {/* (f) B 1s */}
      <Panel
        left={574}
        top={223}
        width={233}
        height={171}
        domain={[186, 199.2]}
        ticks={bTicks}
        divider={87.3}
        series={[
          { pts: bMabRaw, color: '#9a9a9a', width: 0.7, raw: 'tri' },
          { pts: bMoRaw, color: '#8a8a8a', width: 0.8, raw: 'tri' },
          { pts: bMabOx, color: GREEN },
          { pts: bMoOx, color: GREEN },
          { pts: bMabMab, color: BLUE },
          { pts: bMoMab, color: BLUE },
        ]}
        refs={[
          { x: 192.35, y1: 147.3, y2: 42.3 },
          { x: 190.28, y1: 147.3, y2: 42.3 },
        ]}
        arrows={[
          [[192.82, 139], [193.86, 142.3]],
          [[190.21, 120.7], [189.7, 131.3]],
          [[192.44, 55.7], [193.86, 65.7]],
          [[190.27, 60], [188.85, 60]],
        ]}
      />
      <Letter x={543} y={234} t="(f)" />
      <T x={585} y={234} s={7.8}>B 1s</T>
      <T x={642} y={243} c={GREEN}>
        B<Sub>2</Sub>O<Sub>3</Sub>
      </T>
      <T x={640} y={255}>192.84</T>
      <T x={742} y={257} c={BLUE}>Mo-Al-B</T>
      <T x={745} y={267}>190.28</T>
      <T x={585} y={280}>TO/15-MAB</T>
      <T x={645} y={324} c={GREEN}>
        B<Sub>2</Sub>O<Sub>3</Sub>
      </T>
      <T x={643} y={335}>192.4</T>
      <T x={757} y={328} c={BLUE}>Mo-Al-B</T>
      <T x={758} y={339}>190.26</T>
      <T x={593} y={337}>
        Mo<Sub>2</Sub>AlB<Sub>2</Sub>
      </T>
      <YTitle x={563} cy={308} />
      <XTitle cx={690} y={418} />
    </div>
  );
}
